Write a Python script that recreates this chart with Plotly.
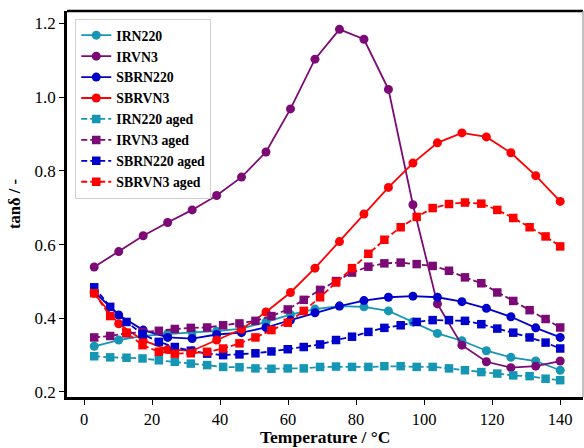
import plotly.graph_objects as go

# Temperature grids (°C): fresh samples measured at 20 steps, aged at 30 steps
temp_fresh = [3.0, 10.2, 17.4, 24.6, 31.8, 39.0, 46.3, 53.5, 60.7, 67.9,
              75.1, 82.3, 89.5, 96.7, 103.9, 111.1, 118.3, 125.5, 132.8, 140.0]
temp_aged = [3.0, 7.7, 12.5, 17.2, 22.0, 26.7, 31.4, 36.2, 40.9, 45.7,
             50.4, 55.1, 59.9, 64.6, 69.4, 74.1, 78.8, 83.6, 88.3, 93.1,
             97.8, 102.5, 107.3, 112.0, 116.8, 121.5, 126.2, 131.0, 135.7, 140.0]

# Loss factor tan(delta), fresh compounds
irn220 = [0.324, 0.341, 0.352, 0.358, 0.362, 0.365, 0.372, 0.390, 0.410, 0.425,
          0.433, 0.431, 0.420, 0.390, 0.359, 0.339, 0.312, 0.294, 0.284, 0.259]
irvn3 = [0.539, 0.581, 0.624, 0.660, 0.694, 0.733, 0.783, 0.851, 0.968, 1.103,
         1.184, 1.157, 1.021, 0.708, 0.439, 0.327, 0.282, 0.266, 0.270, 0.284]
sbrn220 = [0.472, 0.409, 0.368, 0.348, 0.345, 0.356, 0.361, 0.375, 0.395, 0.415,
           0.433, 0.448, 0.457, 0.460, 0.457, 0.445, 0.427, 0.404, 0.374, 0.348]
sbrvn3 = [0.468, 0.385, 0.340, 0.315, 0.312, 0.341, 0.370, 0.417, 0.470, 0.536,
          0.608, 0.683, 0.755, 0.821, 0.876, 0.903, 0.892, 0.849, 0.787, 0.717]

# Loss factor tan(delta), aged compounds
irn220_aged = [0.297, 0.294, 0.293, 0.291, 0.286, 0.282, 0.277, 0.273, 0.268, 0.267,
               0.264, 0.263, 0.264, 0.264, 0.268, 0.269, 0.268, 0.268, 0.270, 0.270,
               0.268, 0.268, 0.264, 0.259, 0.254, 0.250, 0.245, 0.243, 0.236, 0.232]
irvn3_aged = [0.348, 0.352, 0.359, 0.363, 0.366, 0.371, 0.374, 0.375, 0.381, 0.386,
              0.393, 0.406, 0.424, 0.450, 0.477, 0.501, 0.524, 0.540, 0.549, 0.551,
              0.547, 0.542, 0.529, 0.511, 0.495, 0.470, 0.447, 0.422, 0.398, 0.375]
sbrn220_aged = [0.484, 0.431, 0.390, 0.357, 0.336, 0.322, 0.312, 0.304, 0.300, 0.302,
                0.305, 0.310, 0.316, 0.322, 0.329, 0.341, 0.350, 0.363, 0.374, 0.381,
                0.390, 0.395, 0.395, 0.393, 0.384, 0.372, 0.361, 0.348, 0.334, 0.318]
sbrvn3_aged = [0.468, 0.406, 0.361, 0.327, 0.309, 0.304, 0.305, 0.309, 0.318, 0.332,
               0.348, 0.368, 0.388, 0.420, 0.457, 0.497, 0.536, 0.575, 0.613, 0.647,
               0.675, 0.699, 0.710, 0.714, 0.711, 0.694, 0.672, 0.647, 0.622, 0.595]

x_ticks = [0, 20, 40, 60, 80, 100, 120, 140]
y_ticks = [0.2, 0.4, 0.6, 0.8, 1.0, 1.2]

TEAL = "#1496b4"
PURPLE = "#7c0a76"
BLUE = "#0000cc"
RED = "#ff0000"

series = [
    ("IRN220", temp_fresh, irn220, TEAL, "circle", "solid"),
    ("IRVN3", temp_fresh, irvn3, PURPLE, "circle", "solid"),
    ("SBRN220", temp_fresh, sbrn220, BLUE, "circle", "solid"),
    ("SBRVN3", temp_fresh, sbrvn3, RED, "circle", "solid"),
    ("IRN220 aged", temp_aged, irn220_aged, TEAL, "square", "6px,3px"),
    ("IRVN3 aged", temp_aged, irvn3_aged, PURPLE, "square", "6px,3px"),
    ("SBRN220 aged", temp_aged, sbrn220_aged, BLUE, "square", "6px,3px"),
    ("SBRVN3 aged", temp_aged, sbrvn3_aged, RED, "square", "6px,3px"),
]

fig = go.Figure()
for name, xs, ys, color, symbol, dash in series:
    fig.add_trace(go.Scatter(
        x=xs, y=ys, name=name, mode="lines+markers",
        line=dict(color=color, width=1.8, dash=dash),
        marker=dict(symbol=symbol, color=color,
                    size=9 if symbol == "circle" else 8.5,
                    line=dict(width=0)),
    ))

SERIF = "Liberation Serif, Times New Roman, serif"

fig.update_layout(
    width=584, height=448,
    margin=dict(l=67, r=1, t=11, b=51),
    paper_bgcolor="white", plot_bgcolor="white",
    font=dict(family=SERIF, color="black", size=17),
    showlegend=True,
    legend=dict(
        x=0.016, y=0.98, xanchor="left", yanchor="top",
        bgcolor="white", bordercolor="#d0d0d0", borderwidth=1,
        font=dict(family=SERIF, size=13.8, color="black", weight="bold"),
        itemwidth=30, tracegroupgap=0,
    ),
    xaxis=dict(
        range=[-5.0, 146.7], tickvals=x_ticks, automargin=False,
        showgrid=False, zeroline=False,
        showline=True, linecolor="black", linewidth=2.5, mirror=False,
        ticks="outside", ticklen=5, tickwidth=1.3, tickcolor="black",
        tickfont=dict(family=SERIF, size=16.5),
    ),
    yaxis=dict(
        range=[0.1864, 1.2337], tickvals=y_ticks, automargin=False,
        tickformat=".1f",
        showgrid=False, zeroline=False,
        showline=True, linecolor="black", linewidth=2.5, mirror=False,
        ticks="outside", ticklen=5, tickwidth=1.3, tickcolor="black",
        tickfont=dict(family=SERIF, size=17),
        title=dict(text="tanδ / -", standoff=10,
                   font=dict(family=SERIF, size=16.5, weight="bold")),
    ),
    annotations=[
        dict(text="Temperature / °C", xref="paper", yref="paper",
             x=0.5, y=0, xanchor="center", yanchor="bottom", yshift=-50.5,
             showarrow=False, borderpad=0,
             font=dict(family=SERIF, size=17.5, weight="bold", color="black")),
    ],
    shapes=[
        dict(type="line", xref="paper", yref="paper", x0=0, x1=1, y0=1, y1=1,
             line=dict(color="black", width=2.5)),
        dict(type="line", xref="paper", yref="paper", x0=1, x1=1, y0=0, y1=1,
             line=dict(color="#999999", width=1.2)),
    ],
)

fig.write_html("out.html")
